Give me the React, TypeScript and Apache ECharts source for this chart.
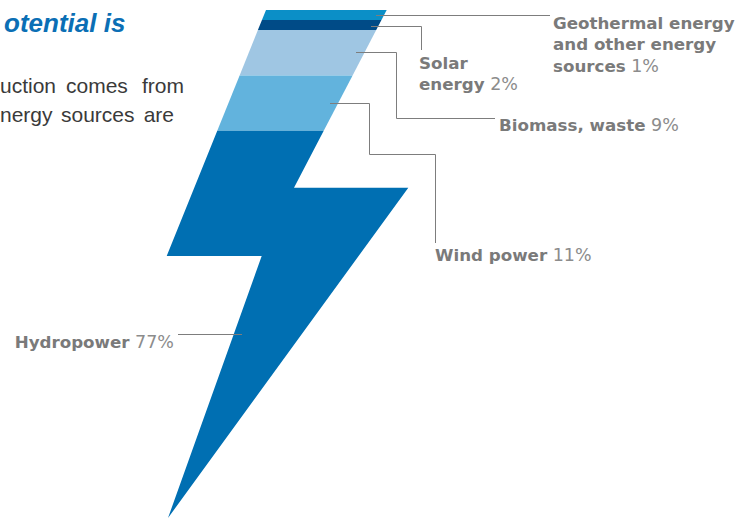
import React, { useEffect, useRef } from "react";
import * as echarts from "echarts";

// ---- data ----
const sourceLines: string[][] = [
  ["Geothermal energy", "and other energy", "sources"],
  ["Solar", "energy"],
  ["Biomass, waste"],
  ["Wind power"],
  ["Hydropower"],
];
const shares = [1, 2, 9, 11, 77]; // % of electricity production
const bandColors = ["#0b8fc7", "#004b87", "#9fc6e3", "#62b3dd", "#006fb2"];
const MIN_BAND = 2; // smallest band drawn (share points), as in the reference

const titleText = "otential is";
const bodyLine1 = ["uction", "comes", "from"];
const bodyLine2 = ["nergy", "sources", "are"];

// ---- layout (pixels) ----
const W = 743;
const H = 518;
const BOLT: number[][] = [
  [266, 10],
  [386.7, 10],
  [294, 187.7],
  [408.3, 187.7],
  [168, 518],
  [261.7, 256],
  [166.7, 256],
];
const leaders: number[][][] = [
  [[376, 15.5], [550, 15.5]],
  [[371, 26.5], [421.5, 26.5], [421.5, 50]],
  [[356, 52.5], [396.5, 52.5], [396.5, 118.5], [495, 118.5]],
  [[330, 103.5], [369.5, 103.5], [369.5, 154.5], [435.5, 154.5], [435.5, 243]],
  [[178, 334.5], [242, 334.5]],
];
const labelPos = [
  { x: 553, y: 23, align: "left", lh: 21.3 },
  { x: 419, y: 63, align: "left", lh: 21 },
  { x: 499, y: 125, align: "left", lh: 21 },
  { x: 435, y: 255, align: "left", lh: 21 },
  { x: 174, y: 342, align: "right", lh: 21 },
];

function clipHalf(poly: number[][], lim: number, keepBelow: boolean) {
  const out: number[][] = [];
  for (let i = 0; i < poly.length; i++) {
    const a = poly[i];
    const b = poly[(i + 1) % poly.length];
    const ina = keepBelow ? a[1] >= lim : a[1] <= lim;
    const inb = keepBelow ? b[1] >= lim : b[1] <= lim;
    if (ina) out.push(a);
    if (ina !== inb) {
      const t = (lim - a[1]) / (b[1] - a[1]);
      out.push([a[0] + t * (b[0] - a[0]), lim]);
    }
  }
  return out;
}

export default function App() {
  const ref = useRef<HTMLDivElement>(null);
  useEffect(() => {
    if (!ref.current) return;
    const chart = echarts.init(ref.current, null, { renderer: "svg" });
    const drawn = shares.map((v) => Math.max(v, MIN_BAND));
    const starts: number[] = [];
    let acc = 0;
    drawn.forEach((v) => {
      starts.push(acc);
      acc += v;
    });
    const total = acc;

    const labelFont = "'DejaVu Sans', sans-serif";
    const rich = (lh: number) => ({
      b: { fontFamily: labelFont, fontWeight: "bold", fontSize: 16.7, fill: "#7a7a7a", color: "#7a7a7a", lineHeight: lh },
      p: { fontFamily: labelFont, fontWeight: "normal", fontSize: 17.5, fill: "#8c8c8c", color: "#8c8c8c", lineHeight: lh },
    });

    const graphics: any[] = [];
    graphics.push({
      type: "text",
      x: 4,
      y: 22.7,
      style: {
        text: titleText,
        fill: "#0b6fb5",
        font: "italic bold 26px 'Liberation Sans', Arial, sans-serif",
        verticalAlign: "middle",
      },
    });
    const bodyFont = "21px 'Liberation Sans', Arial, sans-serif";
    const bodyRows = [
      { words: bodyLine1, xs: [0, 66, 184], al: ["left", "left", "right"], y: 85.9 },
      { words: bodyLine2, xs: [0, 61, 174], al: ["left", "left", "right"], y: 114.3 },
    ];
    bodyRows.forEach((row) => {
      row.words.forEach((w, i) => {
        graphics.push({
          type: "text",
          x: row.xs[i],
          y: row.y,
          style: {
            text: w,
            fill: "#3a3a3a",
            font: bodyFont,
            align: row.al[i],
            verticalAlign: "middle",
          },
        });
      });
    });
    leaders.forEach((pts) => {
      graphics.push({
        type: "polyline",
        shape: { points: pts },
        style: { stroke: "#7d7d7d", lineWidth: 1, fill: "none" },
        z: 10,
      });
    });
    sourceLines.forEach((lines, i) => {
      const lp = labelPos[i];
      const parts = lines.map((l, k) =>
        k === lines.length - 1 ? `{b|${l}}{p| ${shares[i]}%}` : `{b|${l}}`
      );
      graphics.push({
        type: "text",
        x: lp.x,
        y: lp.y - lp.lh / 2,
        style: {
          text: parts.join("\n"),
          rich: rich(lp.lh),
          align: lp.align,
          verticalAlign: "top",
          font: `16.7px ${labelFont}`,
          lineHeight: lp.lh,
        },
        z: 10,
      });
    });

    chart.setOption({
      animation: false,
      grid: { left: 0, right: 0, top: 10, bottom: 0 },
      xAxis: { type: "value", min: 0, max: W, show: false },
      yAxis: { type: "value", min: 0, max: total, inverse: true, show: false },
      graphic: graphics,
      series: [
        {
          type: "custom",
          encode: { x: 0, y: [1, 2] },
          data: drawn.map((v, i) => ({
            value: [i, starts[i], starts[i] + v],
            itemStyle: { color: bandColors[i] },
          })),
          renderItem: (params: any, api: any) => {
            const y0 = api.coord([0, api.value(1)])[1];
            const y1 = api.coord([0, api.value(2)])[1];
            let pts = clipHalf(BOLT, Math.min(y0, y1), true);
            pts = clipHalf(pts, Math.max(y0, y1), false);
            return {
              type: "polygon",
              shape: { points: pts },
              style: { fill: bandColors[params.dataIndex] },
            };
          },
        },
      ],
    });
    return () => chart.dispose();
  }, []);
  return (
    <div
      ref={ref}
      style={{ position: "absolute", left: 0, top: 0, width: W, height: H, background: "#fff" }}
    />
  );
}
